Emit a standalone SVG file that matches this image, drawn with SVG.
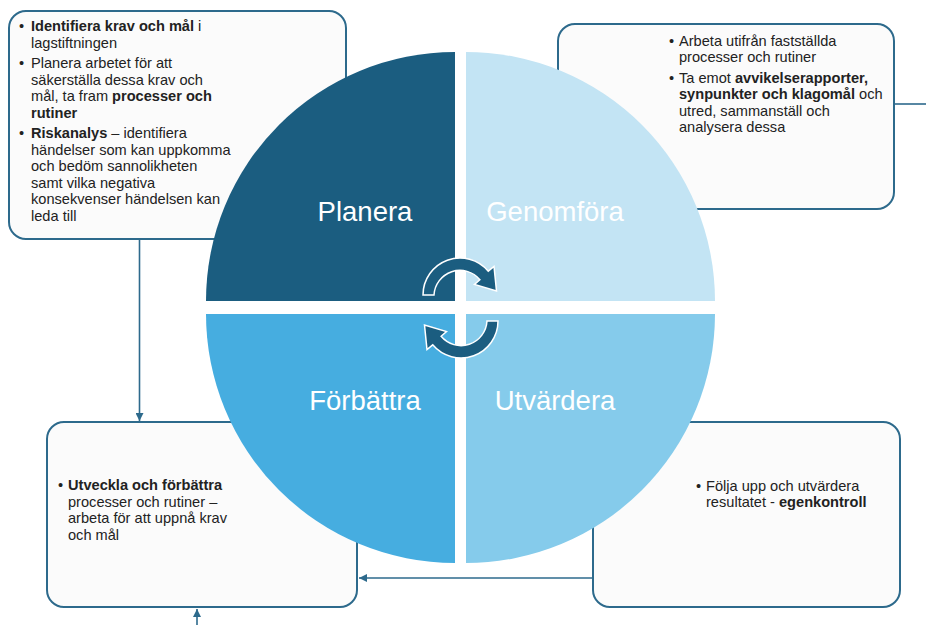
<svg xmlns="http://www.w3.org/2000/svg" width="926" height="625" viewBox="0 0 926 625">
<defs>
<style>
.box{fill:#fbfbfb;stroke:#2d6a8c;stroke-width:2}
.t{font-family:"Liberation Sans",Arial,sans-serif;font-size:14.6px;fill:#222}
.b{font-weight:bold}
.lbl{font-family:"Liberation Sans",Arial,sans-serif;font-size:27.5px;fill:#fff;text-anchor:middle}
.con{stroke:#2d6a8c;stroke-width:1.6;fill:none}
.cyc{fill:#1b5d80;stroke:#fff;stroke-width:1.5}
</style>
<marker id="ah" viewBox="0 0 10 10" refX="10" refY="5" markerWidth="8" markerHeight="8" markerUnits="userSpaceOnUse" orient="auto">
<path d="M0,0 L10,5 L0,10 Z" fill="#2d6a8c"/>
</marker>
</defs>
<rect width="926" height="625" fill="#fff"/>

<g id="connectors">
<line class="con" x1="139.5" y1="239" x2="139.5" y2="421" marker-end="url(#ah)"/>
<line class="con" x1="894" y1="104" x2="926" y2="104"/>
<line class="con" x1="594" y1="578" x2="359" y2="578" marker-end="url(#ah)"/>
<line class="con" x1="197" y1="625" x2="197" y2="609" marker-end="url(#ah)"/>
</g>

<g id="box-plan">
<rect class="box" x="9" y="11" width="337" height="228" rx="17"/>
<text class="t"><tspan x="19" y="31">•</tspan><tspan x="31" y="31" class="b">Identifiera krav och mål</tspan><tspan> i</tspan></text>
<text class="t" x="31" y="47.5">lagstiftningen</text>
<text class="t"><tspan x="19" y="68">•</tspan><tspan x="31" y="68">Planera arbetet för att</tspan></text>
<text class="t" x="31" y="84.5">säkerställa dessa krav och</text>
<text class="t" x="31" y="101">mål, ta fram <tspan class="b">processer och</tspan></text>
<text class="t b" x="31" y="117.5">rutiner</text>
<text class="t"><tspan x="19" y="138">•</tspan><tspan x="31" y="138" class="b">Riskanalys</tspan><tspan> – identifiera</tspan></text>
<text class="t" x="31" y="154.5">händelser som kan uppkomma</text>
<text class="t" x="31" y="171">och bedöm sannolikheten</text>
<text class="t" x="31" y="187.5">samt vilka negativa</text>
<text class="t" x="31" y="204">konsekvenser händelsen kan</text>
<text class="t" x="31" y="220.5">leda till</text>
</g>

<g id="box-genomfora">
<rect class="box" x="558" y="24" width="336" height="185" rx="17"/>
<text class="t"><tspan x="669" y="46">•</tspan><tspan x="679" y="46">Arbeta utifrån fastställda</tspan></text>
<text class="t" x="679" y="62">processer och rutiner</text>
<text class="t"><tspan x="669" y="83">•</tspan><tspan x="679" y="83">Ta emot </tspan><tspan class="b">avvikelserapporter,</tspan></text>
<text class="t"><tspan x="679" y="99" class="b">synpunkter och klagomål</tspan><tspan> och</tspan></text>
<text class="t" x="679" y="115.5">utred, sammanställ och</text>
<text class="t" x="679" y="131.5">analysera dessa</text>
</g>

<g id="box-forbattra">
<rect class="box" x="47" y="422" width="310" height="185" rx="17"/>
<text class="t"><tspan x="58" y="490">•</tspan><tspan x="68" y="490" class="b">Utveckla och förbättra</tspan></text>
<text class="t" x="68" y="506.5">processer och rutiner –</text>
<text class="t" x="68" y="523">arbeta för att uppnå krav</text>
<text class="t" x="68" y="539.5">och mål</text>
</g>

<g id="box-utvardera">
<rect class="box" x="593" y="422" width="307" height="185" rx="17"/>
<text class="t"><tspan x="696" y="491">•</tspan><tspan x="706" y="491">Följa upp och utvärdera</tspan></text>
<text class="t" x="706" y="507">resultatet - <tspan class="b">egenkontroll</tspan></text>
</g>

<g id="planera">
<path d="M455,301 L206,301 A249,249 0 0 1 455,52 Z" fill="#1b5d80"/>
<text class="lbl" x="365" y="221">Planera</text>
</g>
<g id="genomfora">
<path d="M466,301 L466,52 A249,249 0 0 1 715,301 Z" fill="#c3e4f4"/>
<text class="lbl" x="555" y="221">Genomföra</text>
</g>
<g id="forbattra">
<path d="M455,314 L455,563 A249,249 0 0 1 206,314 Z" fill="#46ade0"/>
<text class="lbl" x="365" y="410">Förbättra</text>
</g>
<g id="utvardera">
<path d="M466,314 L715,314 A249,249 0 0 1 466,563 Z" fill="#85cbeb"/>
<text class="lbl" x="555" y="410">Utvärdera</text>
</g>

<g id="cycle">
<path class="cyc" d="M423,295 A37,37 0 0 1 488.3,271.2 L494,266.5 L496.5,291 L474.5,284.5 L479.9,279.7 A26,26 0 0 0 434,295 Z"/>
<path class="cyc" transform="rotate(180 460.5 308)" d="M423,295 A37,37 0 0 1 488.3,271.2 L494,266.5 L496.5,291 L474.5,284.5 L479.9,279.7 A26,26 0 0 0 434,295 Z"/>
</g>
</svg>
